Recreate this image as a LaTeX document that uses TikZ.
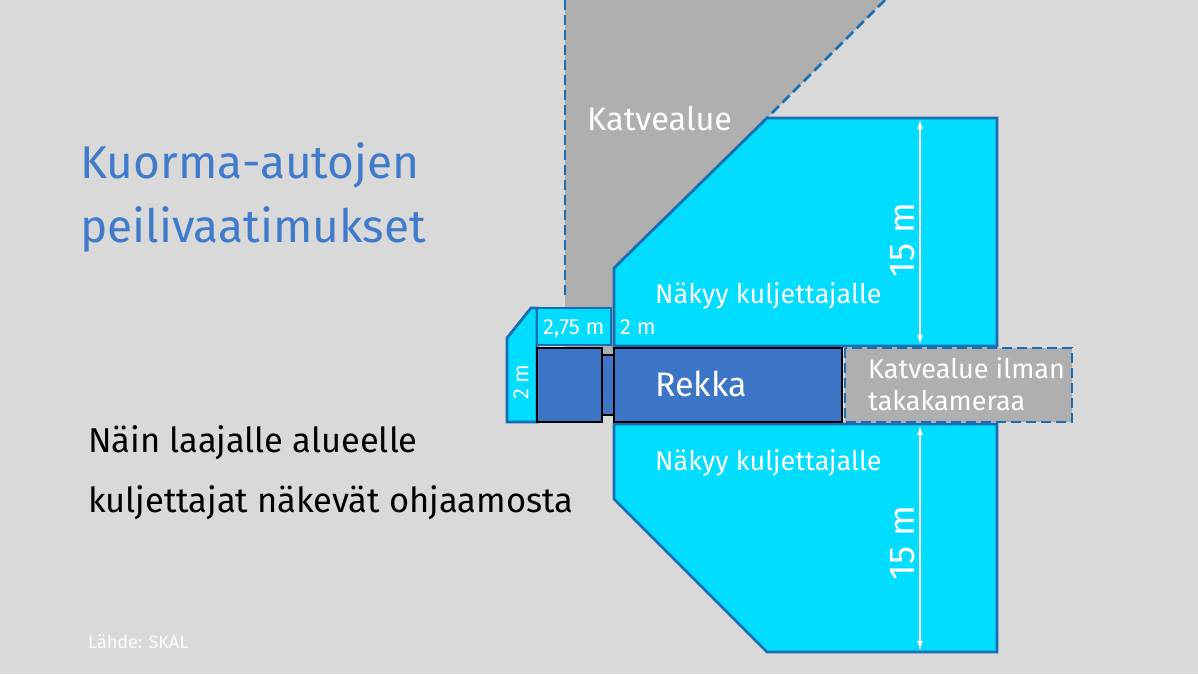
\documentclass[tikz,border=0pt]{standalone}
\usepackage{fontspec}
\setmainfont{Fira Sans}
\usetikzlibrary{arrows.meta}
\definecolor{bggray}{HTML}{D9D9D9}
\definecolor{blindgray}{HTML}{AFAFAF}
\definecolor{seecyan}{HTML}{00DDFF}
\definecolor{edgeblue}{HTML}{1A6DB0}
\definecolor{truckblue}{HTML}{3C75C6}
\definecolor{titleblue}{HTML}{3F7ACB}
\begin{document}
\begin{tikzpicture}[x=1pt, y=-1pt,
    zone/.style={fill=seecyan, draw=edgeblue, line width=2.8pt},
    edgedash/.style={draw=edgeblue, line width=2.8pt, dash pattern=on 10pt off 5pt},
    truck/.style={fill=truckblue, draw=black, line width=2.4pt},
    whitetext/.style={text=white, inner sep=0pt, anchor=base west},
    dimline/.style={white, line width=1.6pt, {Latex[length=10pt,width=6pt]}-{Latex[length=10pt,width=6pt]}}]
    % background
    \fill[bggray] (0,0) rectangle (1198,674);
    \useasboundingbox (0,0) rectangle (1198,674);
    % blind spot above
    \fill[blindgray] (565,0) -- (885,0) -- (767,118) -- (614,268) -- (614,358) -- (565,358) -- cycle;
    \draw[edgedash] (565,0) -- (565,300);
    \draw[edgedash] (885,0) -- (767,118);
    % visible zones
    \draw[zone] (767,118) -- (997,118) -- (997,346) -- (614,346) -- (614,268) -- cycle;
    \draw[zone] (614,424) -- (997,424) -- (997,652) -- (767,652) -- (614,499) -- cycle;
    \draw[zone] (507,338) -- (531,308) -- (537,308) -- (537,422) -- (507,422) -- cycle;
    \draw[zone] (537,308) rectangle (611,345);
    % blind spot behind
    \draw[edgedash, fill=blindgray] (845,348) rectangle (1072,422);
    % truck
    \draw[truck] (537,348) rectangle (602,422);
    \draw[truck, line width=1.4pt] (602,355) rectangle (614,415);
    \draw[truck] (614,348) rectangle (842,422);
    % dimensions
    \coordinate (topA) at (920,119);
    \coordinate (topB) at (920,345);
    \coordinate (botA) at (920,425);
    \coordinate (botB) at (920,651);
    \draw[dimline] (topA) -- (topB);
    \draw[dimline] (botA) -- (botB);
    \node[text=white, rotate=90, inner sep=0pt, font=\fontsize{36}{42}\selectfont] (dimtop) at (903,240) {15 m};
    \node[text=white, rotate=90, inner sep=0pt, font=\fontsize{36}{42}\selectfont] (dimbot) at (903,543) {15 m};
    % texts
    \node[whitetext, text=titleblue, font=\fontsize{46}{52}\selectfont] (title1) at (80,178) {Kuorma-autojen};
    \node[whitetext, text=titleblue, font=\fontsize{46}{52}\selectfont] (title2) at (80,242) {peilivaatimukset};
    \node[whitetext, text=black, font=\fontsize{34.5}{40}\selectfont] (info1) at (88,452) {Näin laajalle alueelle};
    \node[whitetext, text=black, font=\fontsize{34.5}{40}\selectfont] (info2) at (88,512) {kuljettajat näkevät ohjaamosta};
    \node[whitetext, font=\fontsize{32.5}{38}\selectfont] (blindtop) at (587,131) {Katvealue};
    \node[whitetext, font=\fontsize{27}{32}\selectfont] (seetop) at (655,303) {Näkyy kuljettajalle};
    \node[whitetext, font=\fontsize{27}{32}\selectfont] (seebot) at (655,470) {Näkyy kuljettajalle};
    \node[whitetext, font=\fontsize{34}{40}\selectfont] (rekka) at (655,396) {Rekka};
    \node[whitetext, font=\fontsize{27}{32}\selectfont] (blindback1) at (868,378) {Katvealue ilman};
    \node[whitetext, font=\fontsize{27}{32}\selectfont] (blindback2) at (868,410) {takakameraa};
    \node[whitetext, font=\fontsize{22}{26}\selectfont] (mirrorA) at (543,334) {2,75 m};
    \node[whitetext, font=\fontsize{22}{26}\selectfont] (mirrorB) at (620,334) {2 m};
    \node[text=white, rotate=90, inner sep=0pt, font=\fontsize{22}{26}\selectfont] (mirrorC) at (521,382) {2 m};
    \node[whitetext, text=white!92!bggray, font=\fontsize{18}{21}\selectfont] (source) at (88,648) {Lähde: SKAL};
\end{tikzpicture}
\end{document}
